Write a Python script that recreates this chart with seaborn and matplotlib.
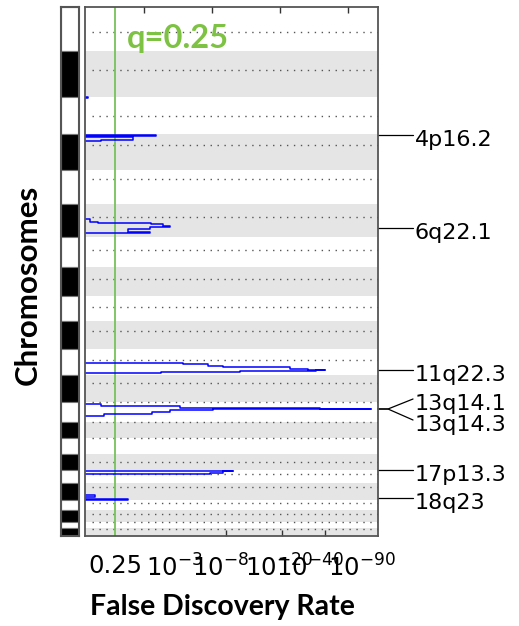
import numpy as np
import pandas as pd
import matplotlib
matplotlib.use("Agg")
import matplotlib.pyplot as plt
import matplotlib.transforms as mtransforms
import seaborn as sns

# ---------------- data ----------------
# chromosome extents (marker-index units, genome order top -> bottom)
chrom_names = [str(i) for i in range(1, 23)]
chrom_sizes = [44, 46, 37, 36, 34, 33, 30, 29, 25, 28, 26, 27, 20, 16, 16, 16, 13, 17, 10, 12, 6, 8]
cen_offsets = [25, 19, 19, 11, 9, 13, 13, 12, 11, 10, 11, 8, 0, 0, 0, 8, 4, 4, 3, 4, 0, 1]

# q-value curves: breakpoints (marker index) and -log10(q) between breakpoints
curve_3p_pos = [89.5, 90.5]
curve_3p_val = [0.06]
curve_4p_pos = [127.5, 128.5, 130.0, 132.5, 134.0]
curve_4p_val = [2.27, 0.0, 1.33, 0.32]
curve_6q_pos = [212.0, 214.5, 216.0, 217.0, 219.0, 220.0, 221.5, 225.0, 226.0]
curve_6q_val = [0.10, 0.26, 2.06, 2.55, 2.84, 2.02, 1.13, 2.02]
curve_11q_pos = [356.3, 357.3, 359.0, 360.3, 361.5, 362.5, 363.0, 363.7, 364.7, 366.3]
curve_11q_val = [3.96, 6.6, 8.4, 27.1, 38.7, 54.4, 45.8, 11.9, 2.47]
curve_13q_pos = [397.0, 398.5, 400.5, 401.7, 402.3, 403.3, 405.0, 407.0, 409.0]
curve_13q_val = [0.32, 3.64, 49.6, 123.8, 7.15, 2.84, 2.10, 0.38]
curve_17p_pos = [463.7, 464.3, 465.5, 466.7, 467.3]
curve_17p_val = [10.5, 8.4, 6.8, 6.07]
curve_18q_pos = [488.0, 490.0, 491.7, 492.5]
curve_18q_val = [0.20, 0.0, 1.13]

q_threshold = 0.25
tick_q = [0.25, 1e-3, 1e-8, 1e-20, 1e-40, 1e-90]
tick_labels = ["0.25", r"$10^{-3}$", r"$10^{-8}$", r"$10^{-20}$", r"$10^{-40}$", r"$10^{-90}$"]

peak_labels = ["4p16.2", "6q22.1", "11q22.3", "13q14.1", "13q14.3", "17p13.3", "18q23"]
peak_loc = [128, 221, 363, 402, 402, 463, 491]
label_end = [128, 221, 363, 392, 413, 463, 491]

# ---------------- style ----------------
sns.set_style("white")
plt.rcParams["font.family"] = ["DejaVu Sans"]
plt.rcParams["text.color"] = "black"
plt.rcParams["xtick.color"] = "black"
plt.rcParams["axes.labelcolor"] = "black"

# axis transform anchors: -log10(q) -> fraction of axis width
V_anchor = np.array([0, 0.602, 3, 8, 20, 40, 90, 150])
F_anchor = np.array([0, 0.1024, 0.3038, 0.464, 0.662, 0.768, 0.945, 1.0])


def fwd(v):
    return np.interp(v, V_anchor, F_anchor)


def inv(f):
    return np.interp(f, F_anchor, V_anchor)


W, H = 519, 626
fig = plt.figure(figsize=(W / 100, H / 100), dpi=100)
ax = fig.add_axes([85 / W, 1 - 536 / H, 293 / W, 529 / H])
axb = fig.add_axes([61 / W, 1 - 536 / H, 18 / W, 529 / H])

total = sum(chrom_sizes)
starts = np.concatenate([[0], np.cumsum(chrom_sizes)[:-1]])

# ---- main panel ----
ax.set_xscale("function", functions=(fwd, inv))
ax.set_xlim(0, 150)
ax.set_ylim(total, 0)

for i, (s, n) in enumerate(zip(starts, chrom_sizes)):
    if i % 2 == 1:
        ax.axhspan(s, s + n, color="#E5E5E5", lw=0, zorder=0)
    ax.axhline(s + cen_offsets[i], xmin=0.024, xmax=1, color="#555555", lw=1.0,
               linestyle=(0, (1, 4)), zorder=1)

ax.axvline(-np.log10(q_threshold), color="#76C25A", lw=1.3, zorder=1.5)

curves = {
    "3p": (curve_3p_pos, curve_3p_val),
    "4p": (curve_4p_pos, curve_4p_val),
    "6q": (curve_6q_pos, curve_6q_val),
    "11q": (curve_11q_pos, curve_11q_val),
    "13q": (curve_13q_pos, curve_13q_val),
    "17p": (curve_17p_pos, curve_17p_val),
    "18q": (curve_18q_pos, curve_18q_val),
}
rows = []
for name, (pos, val) in curves.items():
    pts = [(0.0, pos[0])]
    for k, v in enumerate(val):
        pts.append((v, pos[k]))
        pts.append((v, pos[k + 1]))
    pts.append((0.0, pos[-1]))
    for order, (v, y) in enumerate(pts):
        rows.append({"curve": name, "order": order, "v": v, "y": y})
df = pd.DataFrame(rows)
sns.lineplot(data=df, x="v", y="y", units="curve", estimator=None, sort=False,
             color="#0000FF", lw=1.1, ax=ax, zorder=2, legend=False)

ax.text(0.1433, 0.9216, "q=0.25", transform=ax.transAxes, color="#7DC242",
        fontfamily="Lato", fontweight="bold", fontsize=23.5, va="baseline", ha="left")

# ticks
ax.set_yticks([])
ax.set_ylabel("")
ax.set_xticks(-np.log10(np.array(tick_q)))
ax.set_xticklabels(tick_labels, fontsize=17.5)
ax.set_xticks(inv(np.array([0.3038, 0.4812, 0.6724, 0.8191])), minor=True)
ax.tick_params(axis="x", which="major", length=0, pad=13, labelcolor="black")
ax.tick_params(axis="x", which="minor", direction="in", length=4, width=1,
               color="#333333", bottom=True, top=False)
ax.set_xlabel("False Discovery Rate", fontfamily="Lato", fontweight="bold", fontsize=20.5)
ax.xaxis.set_label_coords(0.4676, -0.134)
ax.xaxis.label.set_va("center")
for sp in ax.spines.values():
    sp.set_color("#555555")
    sp.set_linewidth(1.3)
    sp.set_zorder(3)

ax2 = ax.twiny()
ax2.set_xlim(0, 1)
ax2.set_xticks([0.2014, 0.4334, 0.6655, 0.8976])
ax2.tick_params(axis="x", top=True, bottom=False, labeltop=False, labelbottom=False,
                direction="in", length=4, width=1, color="#333333")
for sp in ax2.spines.values():
    sp.set_visible(False)

# peak labels on the right
trans = mtransforms.blended_transform_factory(ax.transAxes, ax.transData)
for lab, loc, end in zip(peak_labels, peak_loc, label_end):
    ax.plot([1.0, 1.034, 1.1195], [loc, loc, end], transform=trans, color="black",
            lw=0.9, clip_on=False)
    ax.text(1.126, end + 11, lab, transform=trans, fontsize=16, ha="left",
            va="baseline", clip_on=False, color="black")

# ---- chromosome bar ----
colors = ["white" if i % 2 == 0 else "black" for i in range(len(chrom_sizes))]
axb.bar(x=0, height=chrom_sizes, bottom=starts, width=1.0, color=colors,
        edgecolor="#777777", linewidth=0.8)
axb.set_xlim(-0.5, 0.5)
axb.set_ylim(total, 0)
axb.set_xticks([])
axb.set_yticks([])
for sp in axb.spines.values():
    sp.set_color("#555555")
    sp.set_linewidth(1.5)
axb.set_ylabel("Chromosomes", fontfamily="Lato", fontweight="bold", fontsize=22.5)
axb.yaxis.set_label_coords(-1.83, 0.4745)
axb.yaxis.label.set_va("center")

fig.savefig("out.png", dpi=100)
